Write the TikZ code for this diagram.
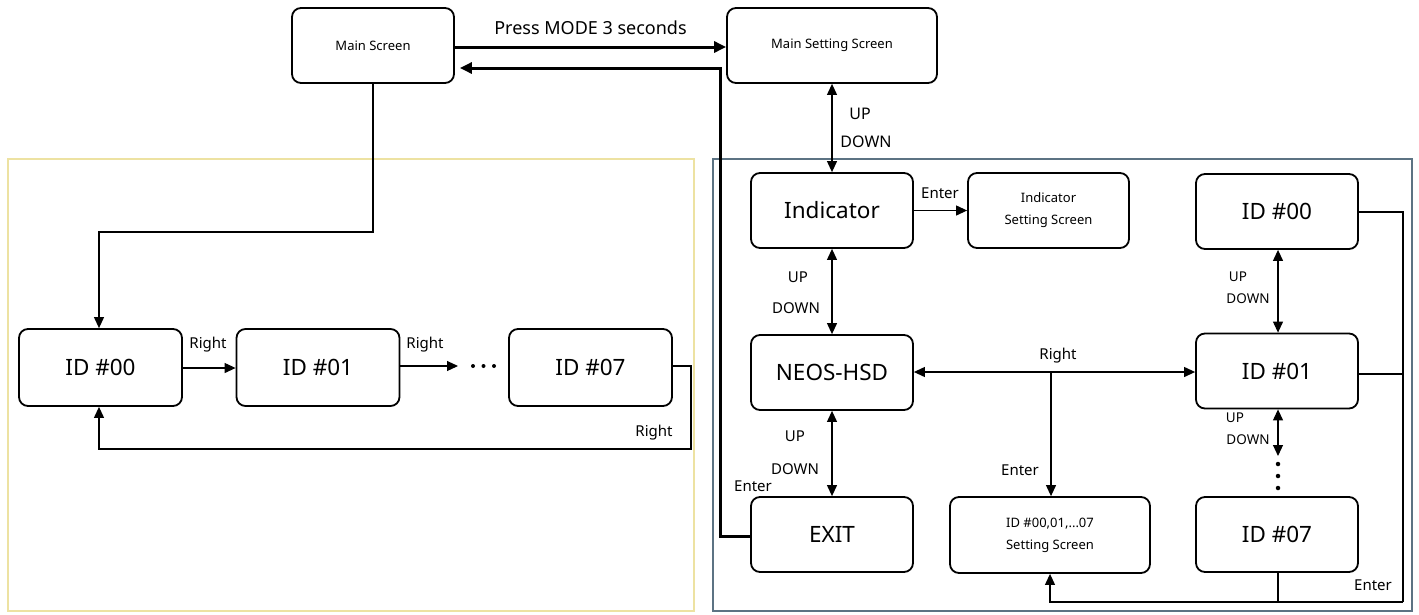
\documentclass[tikz,border=0pt]{standalone}
\usepackage{fontspec}
\setmainfont{Noto Sans}
\usetikzlibrary{arrows.meta,calc}
\definecolor{frameY}{HTML}{EDE2A2}
\definecolor{frameB}{HTML}{5C7383}
\tikzset{
  box/.style={draw=black, line width=1.8pt, rounded corners=9pt,
    minimum width=162pt, minimum height=75pt, inner sep=0pt, align=center, fill=white},
  bigtxt/.style={font=\fontsize{22.5}{26}\selectfont},
  smalltxt/.style={font=\fontsize{13}{22}\selectfont},
  tip/.style={-{Triangle[length=11pt,width=10pt]}},
  conn/.style={line width=1.1pt, tip},
  dconn/.style={line width=1.1pt, {Triangle[length=11pt,width=10pt]}-{Triangle[length=11pt,width=10pt]}},
  plain/.style={line width=1.1pt},
  heavy/.style={line width=3pt, -{Triangle[length=12pt,width=11pt]}},
  lbl/.style={font=\fontsize{15}{17}\selectfont, inner sep=0pt},
  lblb/.style={font=\fontsize{16}{18}\selectfont, inner sep=0pt},
  lbls/.style={font=\fontsize{13.5}{15}\selectfont, inner sep=0pt},
  dot/.style={circle, fill=black, inner sep=0pt, minimum size=4.5pt},
}
\begin{document}
\begin{tikzpicture}[x=1pt, y=-1pt]
  \useasboundingbox (0,0) rectangle (1419,614);
  \fill[white] (0,0) rectangle (1419,614);

  % group frames
  \draw[frameY, line width=2pt] (8,159) rectangle (694,611);
  \draw[frameB, line width=2pt] (713,159) rectangle (1412,611);

  % top level screens
  \node[box, smalltxt] (main) at (373,45.5) {Main Screen};
  \node[box, smalltxt, minimum width=210pt] (mset) at (832,45.5) {Main Setting Screen};

  % setting menu
  \node[box, bigtxt] (ind) at (832,210.5) {Indicator};
  \node[box, smalltxt, minimum width=161pt] (indset) at (1048.5,210.5) {Indicator\\Setting Screen};
  \node[box, bigtxt] (neos) at (832,372.5) {NEOS-HSD};
  \node[box, bigtxt] (exit) at (832,534.5) {EXIT};
  \node[box, smalltxt, minimum width=200pt, minimum height=76pt] (idset) at (1050,535) {ID \#00,01,...07\\Setting Screen};
  \node[box, bigtxt] (r00) at (1277,211.5) {ID \#00};
  \node[box, bigtxt] (r01) at (1277,371) {ID \#01};
  \node[box, bigtxt] (r07) at (1277,534.5) {ID \#07};

  % main screen ID cycle
  \node[box, bigtxt, minimum width=163pt, minimum height=77pt] (l00) at (100.5,367.5) {ID \#00};
  \node[box, bigtxt, minimum width=163pt, minimum height=77pt] (l01) at (318,367.5) {ID \#01};
  \node[box, bigtxt, minimum width=163pt, minimum height=77pt] (l07) at (590.5,367.5) {ID \#07};

  % main <-> setting
  \draw[heavy] ($(main.east)+(0,1.5)$) -- ($(mset.west)+(0,1.5)$)
    node[midway, above=11pt, font=\fontsize{18}{21}\selectfont, inner sep=0pt] (press) {Press MODE 3 seconds};
  \coordinate (rt1) at (720,536);
  \coordinate (rt2) at (720,68);
  \draw[heavy, shorten >=5pt] (exit.west |- rt1) -- (rt1) -- (rt2) -- (main.east |- rt2);
  \node[lbl] (lenx) at (753,486) {Enter};

  % vertical navigation
  \draw[dconn] (mset.south) -- (ind.north);
  \node[lblb] (u1) at (860,114) {UP};
  \node[lblb] (d1) at (866,142) {DOWN};
  \draw[dconn] (ind.south) -- (neos.north);
  \node[lbl] (u2) at (798,277) {UP};
  \node[lbl] (d2) at (796,308) {DOWN};
  \draw[dconn] (neos.south) -- (exit.north);
  \node[lbl] (u3) at (795,436) {UP};
  \node[lbl] (d3) at (795,469) {DOWN};

  % indicator setting
  \draw[conn] (ind.east) -- (indset.west);
  \node[lbl] (e1) at (940,193) {Enter};

  % NEOS-HSD <-> ID #01 and setting screen
  \draw[dconn] (neos.east |- 0,372) -- (r01.west |- 0,372);
  \node[lbl] (rr) at (1058,356) {Right};
  \coordinate (br) at (1051,372);
  \draw[conn] (br) -- (br |- idset.north);
  \node[lbl] (e2) at (1020,470) {Enter};

  % right ID column
  \draw[dconn] (r00.south -| 1278,0) -- (r01.north -| 1278,0);
  \node[lbls] (u4) at (1238,277) {UP};
  \node[lbls] (d4) at (1248,299) {DOWN};
  \coordinate (cd) at (1278,456);
  \draw[dconn] (r01.south -| cd) -- (cd);
  \node[lbls] (u5) at (1235,418) {UP};
  \node[lbls] (d5) at (1248,440) {DOWN};
  \node[dot] (v1) at (1278,464) {};
  \node[dot] (v2) at (1278,476) {};
  \node[dot] (v3) at (1278,488) {};

  % enter bus to setting screen
  \coordinate (bx) at (1403,212);
  \coordinate (by) at (1403,374);
  \coordinate (bz) at (1403,602);
  \coordinate (bs) at (1278,602);
  \draw[plain] (r00.east |- bx) -- (bx) -- (bz);
  \draw[plain] (r01.east |- by) -- (by);
  \draw[plain] (r07.south -| bs) -- (bs);
  \draw[conn] (bz) -- (bz -| idset.south) -- (idset.south);
  \node[lbl] (e3) at (1373,585) {Enter};

  % main screen to ID cycle
  \coordinate (m1) at (373,232);
  \coordinate (m2) at (99,232);
  \draw[conn] (main.south) -- (m1) -- (m2) -- (m2 |- l00.north);
  \draw[conn] (l00.east |- 0,368) -- (l01.west |- 0,368);
  \node[lbl] (lr1) at (208,345) {Right};
  \coordinate (c7) at (458,366);
  \draw[conn] (l01.east |- c7) -- (c7);
  \node[lbl] (lr2) at (425,345) {Right};
  \node[dot, minimum size=4pt] (h1) at (473,366) {};
  \node[dot, minimum size=4pt] (h2) at (483.5,366) {};
  \node[dot, minimum size=4pt] (h3) at (494,366) {};
  \coordinate (w1) at (691,366);
  \coordinate (w2) at (691,449);
  \coordinate (w3) at (99,449);
  \draw[conn] (l07.east |- w1) -- (w1) -- (w2) -- (w3) -- (w3 |- l00.south);
  \node[lbl] (lr3) at (654,433) {Right};
\end{tikzpicture}
\end{document}
